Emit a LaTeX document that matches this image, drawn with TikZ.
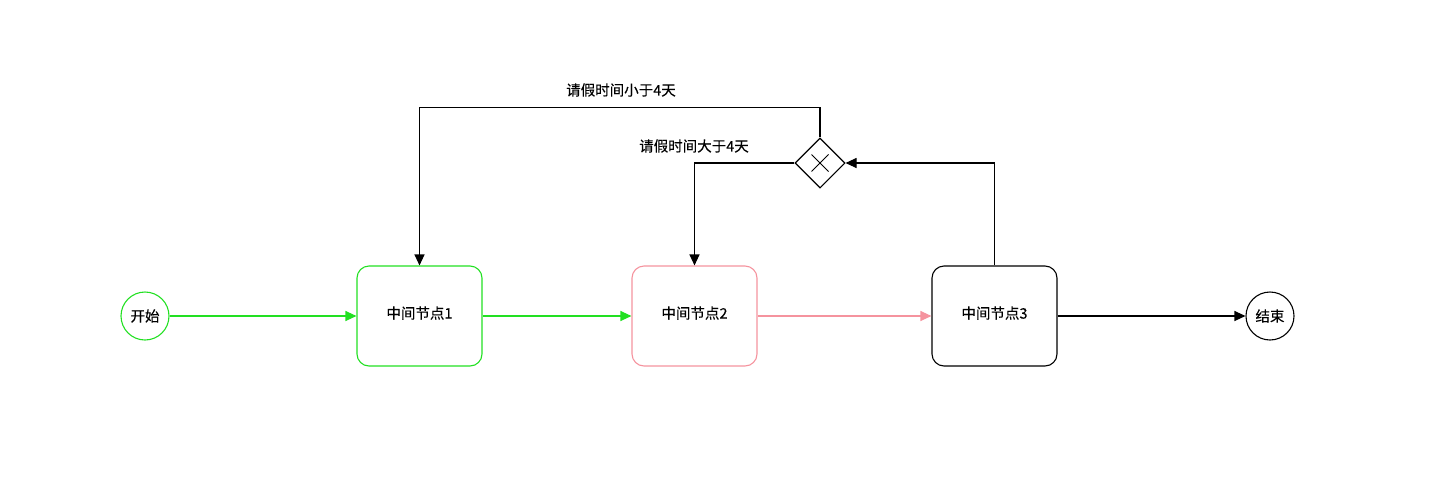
\documentclass[tikz,border=0pt]{standalone}
\usepackage{tikz}
\usepackage{xcolor}
\usepackage{fontspec}
\setmainfont{Noto Sans CJK SC}[FakeBold=0.3]
\usetikzlibrary{shapes.geometric,arrows.meta}

\definecolor{flowgreen}{HTML}{22E022}
\definecolor{flowpink}{HTML}{F5939E}

\begin{document}
\begin{tikzpicture}
    [x=1pt,y=-1pt,font=\fontsize{14.5}{16}\selectfont,
     every node/.style={draw,inner sep=0pt,line width=1.1pt},
     event/.style={circle,minimum size=48pt},
     task/.style={rounded corners=12pt,minimum width=125pt,minimum height=100pt},
     gate/.style={diamond,minimum width=50pt,minimum height=50pt},
     lbl/.style={draw=none},
     flow/.style={line width=1.1pt,-{Triangle[length=11pt,width=10pt]}}]
    \useasboundingbox (0,0) rectangle (1444,480);

    % events and tasks
    \node[event,draw=flowgreen] (n-start) at (145,316) {开始};
    \node[task,draw=flowgreen] (n-task1) at (419.5,316) {\raisebox{7pt}{中间节点1}};
    \node[task,draw=flowpink] (n-task2) at (694.5,316) {\raisebox{7pt}{中间节点2}};
    \node[task] (n-task3) at (994.5,316) {\raisebox{7pt}{中间节点3}};
    \node[event] (n-end) at (1270,316) {结束};

    % gateway
    \node[gate] (n-gate) at (820,163) {};
    \draw[line width=0.8pt] (n-gate.center) ++(-8.5,-8.5) -- ++(17,17);
    \draw[line width=0.8pt] (n-gate.center) ++(8.5,-8.5) -- ++(-17,17);

    \node[lbl] (l-less) at (621,90) {请假时间小于4天};
    \node[lbl] (l-more) at (694,146) {请假时间大于4天};

    \draw[flow,draw=flowgreen,fill=flowgreen] (n-start) -- (n-task1);
    \draw[flow,draw=flowgreen,fill=flowgreen] (n-task1) -- (n-task2);
    \draw[flow,draw=flowpink,fill=flowpink] (n-task2) -- (n-task3);
    \draw[flow] (n-task3) -- (n-end);
    \draw[flow] (n-task3.north) |- (n-gate.east);
    \draw[flow] (n-gate.north) -- ++(0,-30) -| (n-task1.north);
    \draw[flow] (n-gate.west) -| (n-task2.north);
\end{tikzpicture}
\end{document}
